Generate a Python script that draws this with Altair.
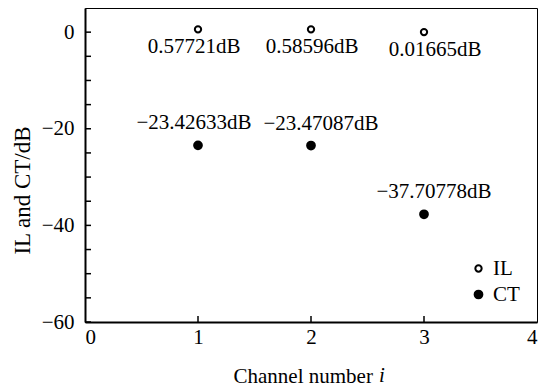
import altair as alt
import pandas as pd

channels = [1, 2, 3]
il_values = [0.57721, 0.58596, 0.01665]
ct_values = [-23.42633, -23.47087, -37.70778]
il_labels = ["0.57721dB", "0.58596dB", "0.01665dB"]
ct_labels = ["\u221223.42633dB", "\u221223.47087dB", "\u221237.70778dB"]
y_tick_values = [-60, -55, -50, -45, -40, -35, -30, -25, -20, -15, -10, -5, 0]
x_tick_values = [1, 2, 3]
y_label_values = [-60, -40, -20, 0]
x_label_values = [0, 1, 2, 3, 4]

FONT = "Liberation Serif"
W, H = 452, 314

rows = []
for c, v, l in zip(channels, il_values, il_labels):
    rows.append({"channel": c, "value": v, "series": "IL", "label": l})
for c, v, l in zip(channels, ct_values, ct_labels):
    rows.append({"channel": c, "value": v, "series": "CT", "label": l})
df = pd.DataFrame(rows)

xscale = alt.Scale(domain=[0, 4], nice=False, zero=False)
yscale = alt.Scale(domain=[-60, 5], nice=False, zero=False)

x_axis = alt.Axis(values=x_label_values, ticks=False, grid=False, title="Channel number",
                  titleAlign="left", titleX=148, titleY=60, titleBaseline="alphabetic",
                  labelPadding=4, format="d")
y_axis = alt.Axis(values=y_label_values, ticks=False, grid=False, title="IL and CT/dB",
                  titleX=-63, titleY=182, titleAngle=270, titleAlign="center",
                  titleBaseline="middle", titleFontSize=23, labelPadding=11, format="d")

legend = alt.Legend(title=None, orient="none", legendX=383, legendY=250, padding=0,
                    labelFont=FONT, labelFontSize=21, labelColor="black", labelOffset=4,
                    rowPadding=4, symbolStrokeWidth=2, symbolType="circle")

base = alt.Chart(df)
dom = ["IL", "CT"]

points = base.mark_circle(strokeWidth=2, opacity=1).encode(
    x=alt.X("channel:Q", scale=xscale, axis=x_axis),
    y=alt.Y("value:Q", scale=yscale, axis=y_axis),
    fill=alt.Fill("series:N", scale=alt.Scale(domain=dom, range=["white", "black"]), legend=legend),
    stroke=alt.Stroke("series:N", scale=alt.Scale(domain=dom, range=["black", "black"]), legend=legend),
    size=alt.Size("series:N", scale=alt.Scale(domain=dom, range=[40, 60]), legend=legend),
)

# small horizontal nudges of the value labels, as in the original figure
nudges = {("IL", 1): -4, ("IL", 2): 1, ("IL", 3): 11,
          ("CT", 1): -4, ("CT", 2): 10, ("CT", 3): 10}
text_layers = []
for (s, c), dx in nudges.items():
    dy = 24 if s == "IL" else -16
    text_layers.append(
        base.transform_filter((alt.datum.series == s) & (alt.datum.channel == c)).mark_text(
            font=FONT, fontSize=21, color="black", dx=dx, dy=dy,
            baseline="alphabetic", align="center"
        ).encode(x=alt.X("channel:Q", scale=xscale), y=alt.Y("value:Q", scale=yscale),
                 text="label:N")
    )

ytick_df = pd.DataFrame({"v": y_tick_values})
xtick_df = pd.DataFrame({"v": x_tick_values})
yticks = alt.Chart(ytick_df).mark_rule(color="black", strokeWidth=1.5).encode(
    y=alt.Y("v:Q", scale=yscale), x=alt.value(0), x2=alt.value(6))
xticks = alt.Chart(xtick_df).mark_rule(color="black", strokeWidth=1.5).encode(
    x=alt.X("v:Q", scale=xscale), y=alt.value(H), y2=alt.value(H - 6))

italic_i = alt.Chart(pd.DataFrame({"t": ["i"]})).mark_text(
    font=FONT, fontSize=21, fontStyle="italic", color="black", align="left", baseline="alphabetic"
).encode(text="t:N", x=alt.value(294), y=alt.value(H + 60))

chart = alt.layer(yticks, xticks, points, *text_layers, italic_i).properties(
    width=W, height=H, autosize="none",
    padding={"left": 77, "top": 0, "right": 9, "bottom": 68},
    background="white",
).configure_view(stroke="black", strokeWidth=1).configure_axis(
    domainColor="black", domainWidth=2, labelFont=FONT, labelFontSize=21, labelColor="black",
    titleFont=FONT, titleFontSize=21, titleColor="black", titleFontWeight="normal",
)

chart.save("out.html", embed_options={"renderer": "svg", "actions": False})
